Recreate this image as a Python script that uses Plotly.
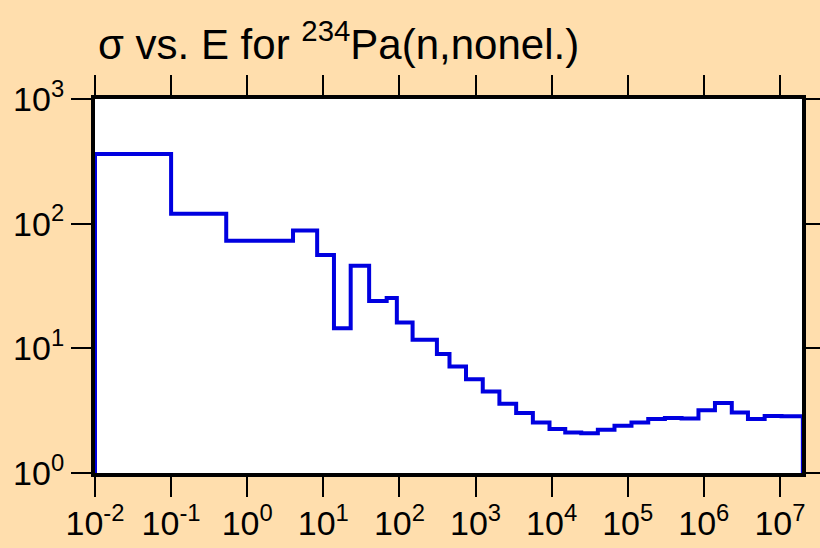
import plotly.graph_objects as go

# Group boundaries (eV) and group-averaged cross sections (b)
energy_edges = [1e-2, 0.1, 0.53, 4.0, 8.3, 13.8, 22.9, 40, 68, 92.5, 149, 311, 455, 750,
                1245, 2060, 3420, 5670, 9380, 15100, 24500, 40500, 67000, 112000, 186000,
                308000, 510000, 850000, 1.4e6, 2.33e6, 3.8e6, 6.3e6, 1.05e7, 2e7]
sigma_values = [362, 120, 73, 88, 56, 14.5, 46, 24, 25.3, 16.1, 11.7, 9.0, 7.15, 5.66, 4.5,
                3.59, 3.03, 2.54, 2.25, 2.11, 2.08, 2.22, 2.39, 2.54, 2.71, 2.76, 2.74, 3.18,
                3.64, 3.06, 2.71, 2.86, 2.85]
y_floor = 1.0

x_tick_vals = [1e-2, 1e-1, 1e0, 1e1, 1e2, 1e3, 1e4, 1e5, 1e6, 1e7]
x_tick_text = ["10<sup>-2</sup>", "10<sup>-1</sup>", "10<sup>0</sup>", "10<sup>1</sup>",
               "10<sup>2</sup>", "10<sup>3</sup>", "10<sup>4</sup>", "10<sup>5</sup>",
               "10<sup>6</sup>", "10<sup>7</sup>"]
y_tick_vals = [1, 10, 100, 1000]
y_tick_text = ["10<sup>0</sup>", "10<sup>1</sup>", "10<sup>2</sup>", "10<sup>3</sup>"]

title_text = "σ vs. E for <sup>234</sup>Pa(n,nonel.)"

xs = [energy_edges[0]] + energy_edges + [energy_edges[-1]]
ys = [y_floor] + sigma_values + [sigma_values[-1], y_floor]

FONT = "Liberation Sans, Arial, sans-serif"
BG = "#FFDEAD"

fig = go.Figure()
fig.add_trace(go.Scatter(x=xs, y=ys, mode="lines", line=dict(color="#0000E0", width=4, shape="hv"),
                         showlegend=False, hoverinfo="skip"))

axis_common = dict(showline=True, linecolor="black", linewidth=4, mirror="allticks",
                   ticks="outside", ticklen=20, tickwidth=2, tickcolor="black",
                   showgrid=False, zeroline=False, automargin=False,
                   tickfont=dict(family=FONT, size=34, color="black"))

fig.update_xaxes(type="log", range=[-2, 7.29], tickmode="array", tickvals=x_tick_vals,
                 ticktext=x_tick_text, ticklabelstandoff=-3, **axis_common)
fig.update_yaxes(type="log", range=[0, 3], tickmode="array", tickvals=y_tick_vals,
                 ticktext=y_tick_text, **axis_common)

fig.update_layout(
    width=820, height=548,
    margin=dict(l=95, r=18, t=99, b=75),
    paper_bgcolor=BG, plot_bgcolor="white",
    title=dict(text=title_text, font=dict(family=FONT, size=42, color="black"),
               xref="container", x=98/820, xanchor="left",
               yref="container", y=1-44/548, yanchor="middle"),
)

fig.write_html("out.html", config={"displayModeBar": False},
               post_script="document.body.style.margin='0';document.body.style.padding='0';"
                           "document.body.style.background='#FFDEAD';")
